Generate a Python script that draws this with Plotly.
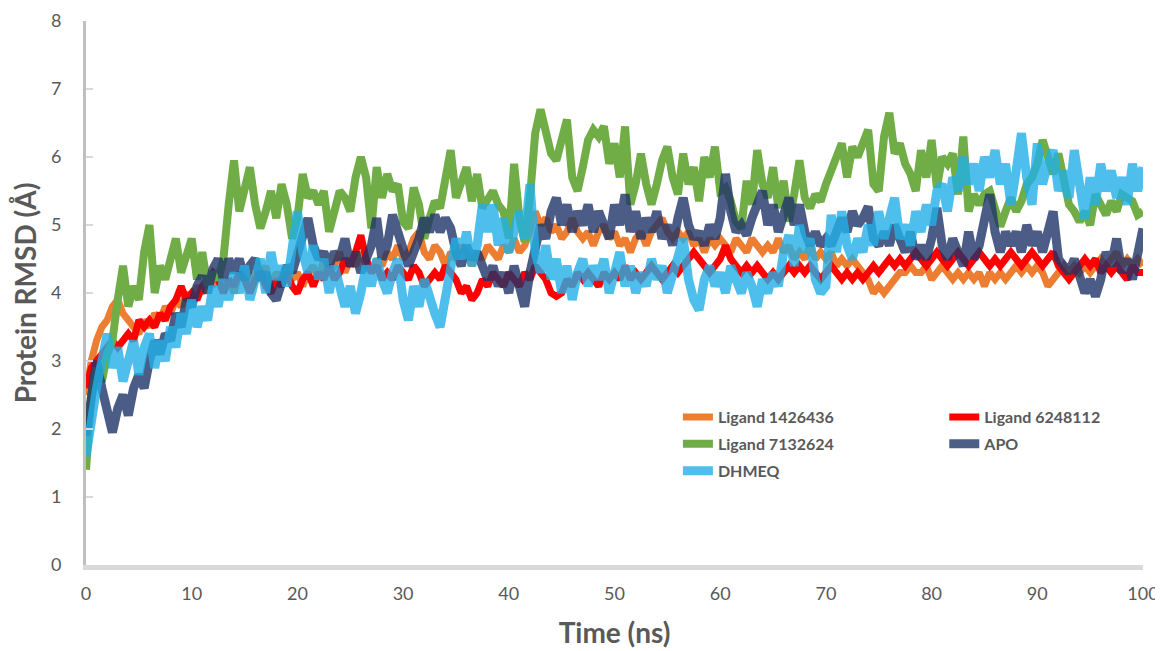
import plotly.graph_objects as go

lig_1426436 = [2.5,3.0,3.3,3.5,3.6,3.8,3.9,3.7,3.6,3.5,3.4,3.6,3.5,3.7,3.6,3.8,3.7,3.9,3.8,4.0,
3.9,4.1,4.0,4.2,4.1,4.3,4.1,4.2,4.0,4.3,4.2,4.1,4.3,4.2,4.4,4.1,4.3,4.2,4.4,4.2,
4.3,4.1,4.3,4.4,4.2,4.5,4.3,4.4,4.6,4.3,4.5,4.4,4.6,4.4,4.3,4.5,4.4,4.6,4.5,4.7,
4.5,4.6,4.8,4.9,4.6,4.5,4.7,4.6,4.4,4.6,4.5,4.7,4.6,4.4,4.6,4.5,4.7,4.6,4.5,4.7,
4.6,4.8,4.6,4.7,4.9,5.2,5.0,5.1,4.9,5.0,4.8,4.9,5.1,4.9,4.8,4.9,4.7,4.9,5.0,4.8,
4.9,4.7,4.8,4.6,4.8,4.9,4.7,4.9,5.0,5.1,4.9,4.8,4.9,4.8,4.9,4.7,4.8,4.6,4.8,4.7,
4.8,4.7,4.6,4.8,4.7,4.6,4.8,4.7,4.6,4.7,4.6,4.8,4.6,4.7,4.5,4.6,4.5,4.7,4.5,4.6,
4.5,4.6,4.4,4.5,4.4,4.5,4.4,4.3,4.2,4.0,4.1,4.0,4.1,4.2,4.3,4.3,4.4,4.3,4.3,4.4,
4.2,4.3,4.4,4.3,4.2,4.3,4.2,4.3,4.2,4.3,4.1,4.3,4.2,4.3,4.2,4.3,4.4,4.3,4.4,4.3,
4.4,4.3,4.1,4.2,4.3,4.4,4.3,4.4,4.3,4.4,4.3,4.4,4.5,4.4,4.5,4.6,4.4,4.5,4.4,4.5,
4.4]

lig_6248112 = [2.6,2.9,3.0,3.1,3.2,3.3,3.2,3.3,3.4,3.3,3.6,3.5,3.6,3.5,3.7,3.6,3.8,3.9,4.1,3.9,
4.0,3.9,4.1,4.2,4.3,4.2,4.0,4.2,4.1,4.3,4.2,4.0,4.2,4.3,4.1,4.0,4.2,4.1,4.3,4.1,
4.0,4.2,4.3,4.1,4.3,4.2,4.4,4.2,4.3,4.5,4.4,4.6,4.85,4.5,4.3,4.4,4.2,4.3,4.2,4.4,
4.3,4.2,4.4,4.3,4.1,4.2,4.3,4.2,4.4,4.3,4.2,4.0,4.1,3.9,4.0,4.2,4.1,4.3,4.2,4.1,
4.3,4.2,4.1,4.3,4.2,4.4,4.3,4.2,4.0,3.95,4.0,4.2,4.1,4.3,4.2,4.3,4.2,4.1,4.3,4.2,
4.3,4.2,4.4,4.2,4.3,4.2,4.3,4.4,4.3,4.2,4.3,4.4,4.3,4.4,4.5,4.6,4.5,4.4,4.3,4.4,
4.5,4.7,4.5,4.4,4.3,4.4,4.3,4.4,4.3,4.2,4.3,4.2,4.3,4.4,4.3,4.4,4.3,4.4,4.3,4.2,
4.3,4.4,4.3,4.2,4.3,4.2,4.3,4.2,4.3,4.4,4.3,4.4,4.5,4.4,4.5,4.4,4.5,4.6,4.5,4.4,
4.5,4.6,4.5,4.4,4.5,4.6,4.5,4.4,4.5,4.6,4.5,4.4,4.5,4.4,4.5,4.6,4.5,4.4,4.5,4.6,
4.5,4.4,4.5,4.6,4.4,4.3,4.2,4.3,4.4,4.5,4.4,4.5,4.3,4.4,4.3,4.4,4.3,4.2,4.4,4.3,
4.3]

lig_7132624 = [1.4,2.5,2.9,2.7,3.1,3.3,3.9,4.4,3.8,4.1,3.9,4.6,5.0,4.0,4.4,4.2,4.5,4.8,4.3,4.6,
4.8,4.2,4.6,4.1,4.3,4.2,4.5,5.3,5.95,5.2,5.5,5.85,5.3,4.95,5.2,5.5,5.1,5.6,5.3,4.8,
5.1,5.75,5.4,5.5,5.3,5.5,4.9,5.2,5.5,5.4,5.2,5.7,6.0,5.7,4.95,5.85,5.4,5.75,5.5,5.6,
5.05,4.95,5.55,5.3,4.8,5.1,5.35,5.25,5.7,6.1,5.4,5.6,5.85,5.35,5.75,5.25,5.4,5.5,5.3,5.2,
4.8,5.9,5.1,4.75,5.4,6.35,6.7,6.3,6.05,5.95,6.3,6.55,5.7,5.5,5.85,6.25,6.4,6.3,6.45,5.9,
6.2,5.7,6.45,5.3,5.6,6.05,5.6,5.3,5.6,5.95,6.15,5.7,5.45,6.05,5.6,5.85,5.35,6.0,5.7,6.15,
5.5,5.55,5.35,5.05,4.95,5.65,5.3,6.1,5.6,5.4,5.85,5.25,5.65,5.05,5.45,5.95,5.4,5.25,5.45,5.35,
5.6,5.8,5.95,6.2,5.7,6.15,6.0,6.2,6.4,5.6,5.5,6.3,6.65,6.05,6.2,5.9,5.75,5.5,6.1,5.7,
6.25,5.55,6.0,5.9,6.05,5.45,6.3,5.2,5.45,5.3,5.45,5.5,5.25,4.98,5.2,5.4,5.2,5.35,5.6,5.7,
5.9,6.25,6.0,5.75,6.05,5.6,5.3,5.2,5.05,5.2,5.0,5.45,5.3,5.15,5.35,5.2,5.45,5.4,5.35,5.15,
5.2]

apo = [1.9,2.4,3.0,2.6,2.2,1.95,2.3,2.5,2.2,2.6,2.8,2.6,3.0,3.3,3.1,3.4,3.3,3.7,3.5,3.9,
3.8,4.1,4.25,4.0,4.35,4.5,4.2,4.5,4.3,4.5,4.2,4.4,4.5,4.2,4.3,4.0,3.9,4.2,4.4,4.3,
4.6,4.8,5.1,4.7,4.5,4.6,4.4,4.6,4.5,4.8,4.4,4.6,4.3,4.5,4.7,5.1,4.5,4.7,5.15,4.9,
4.6,4.4,4.6,4.8,5.1,4.9,5.15,4.9,5.1,4.95,4.6,4.4,4.7,4.5,4.6,4.4,4.2,4.4,4.1,4.3,
4.0,4.4,4.1,3.8,4.3,4.7,5.0,4.8,5.2,5.4,5.0,5.3,4.9,5.2,5.0,5.3,4.9,5.2,5.0,4.8,
5.3,5.0,5.45,4.9,5.2,4.8,5.1,4.9,5.2,4.8,5.0,4.7,5.1,5.4,5.0,4.8,4.9,4.7,5.0,4.8,
5.1,5.75,5.2,4.9,5.0,4.85,5.1,5.3,5.5,5.0,5.3,4.9,5.2,5.4,5.0,5.3,4.9,4.7,4.9,4.7,
4.8,4.7,4.9,5.1,4.9,5.2,5.0,5.1,5.27,4.8,4.7,4.9,4.7,5.0,4.8,4.6,4.9,4.5,4.7,4.5,
4.8,5.25,4.7,4.5,4.8,4.6,4.4,4.9,4.5,4.7,5.1,5.45,4.9,4.6,4.9,4.7,4.9,4.6,5.0,4.7,
4.9,4.6,4.9,5.2,4.5,4.4,4.3,4.5,4.2,4.0,4.2,3.95,4.2,4.6,4.4,4.8,4.3,4.5,4.2,4.6,
4.95]

dhmeq = [1.6,2.2,2.6,3.0,3.4,2.9,3.2,2.7,3.0,3.3,2.8,3.2,3.4,2.9,3.3,3.0,3.5,3.2,3.7,3.4,
3.9,3.5,3.8,3.6,4.1,3.8,4.2,3.9,4.3,4.0,4.4,3.9,4.2,4.5,4.0,4.6,4.2,4.4,4.1,4.7,
5.2,4.6,4.3,4.7,4.2,4.5,4.0,4.4,4.1,3.8,4.1,3.7,4.0,4.4,4.1,4.5,4.2,4.0,4.3,4.5,
3.9,3.6,4.1,3.8,4.2,3.9,3.7,3.5,4.0,4.4,4.8,4.5,4.9,4.4,4.7,5.3,4.9,5.3,4.7,5.1,
4.6,4.9,5.2,4.8,5.6,4.6,4.3,4.7,4.2,4.5,4.0,4.4,3.9,4.3,4.5,4.1,4.4,4.2,4.5,4.0,
4.3,4.6,4.1,4.4,4.0,4.3,4.1,4.5,4.2,4.4,4.0,4.3,4.6,4.8,4.2,3.9,3.75,4.2,4.4,4.1,
4.3,4.0,4.4,4.2,4.0,4.3,4.1,3.8,4.2,4.0,4.3,4.1,4.6,4.85,4.4,5.0,4.6,4.8,4.2,4.0,
4.1,5.15,4.6,5.2,4.7,4.5,4.8,4.6,5.0,4.7,5.2,4.8,5.1,5.4,4.8,5.0,4.7,5.2,4.9,5.3,
5.0,5.5,5.6,5.2,5.7,5.5,6.0,5.6,5.9,5.5,6.0,5.7,6.1,5.6,5.9,5.3,5.8,6.35,5.7,5.3,
6.2,5.6,5.9,6.1,5.5,5.8,5.4,6.1,5.6,5.1,5.7,5.3,5.9,5.5,5.8,5.4,5.7,5.3,5.9,5.5,
5.85]

series = [
    ("Ligand 1426436", lig_1426436, "#ed7d31", 7, 1.0, "legend"),
    ("Ligand 6248112", lig_6248112, "#ff0000", 7, 1.0, "legend2"),
    ("Ligand 7132624", lig_7132624, "#70ad47", 8, 1.0, "legend"),
    ("APO", apo, "#1f3468", 9, 0.8, "legend2"),
    ("DHMEQ", dhmeq, "#22b0e8", 9, 0.8, "legend"),
]

fig = go.Figure()
for i, (name, vals, color, w, op, lg) in enumerate(series):
    t = [k * 0.5 for k in range(len(vals))]
    fig.add_trace(go.Scatter(x=t, y=vals, mode="lines", name=name,
                             line=dict(color=color, width=w), opacity=op,
                             legend=lg, legendgroup=name))

axis_font = dict(family="Lato", size=18, color="#595959")
title_font = dict(family="Lato", size=28, color="#595959", weight="bold")
leg_font = dict(family="Lato", size=16, color="#595959", weight="bold")

# the page body adds an 8px offset, so the figure is sized/margined to compensate
fig.update_layout(
    width=1155, height=643,
    margin=dict(l=78, r=20, t=13, b=86),
    paper_bgcolor="white", plot_bgcolor="white",
    xaxis=dict(range=[0, 100], dtick=10, showgrid=False, zeroline=False,
               showline=True, linecolor="#d9d9d9", linewidth=5,
               ticks="", tickfont=axis_font, automargin=False, ticklabelstandoff=8,
               title=dict(text="<b>Time (ns)</b>", font=title_font, standoff=22)),
    yaxis=dict(range=[0, 8], dtick=1, showgrid=False, zeroline=False,
               showline=True, linecolor="#bfbfbf", linewidth=3,
               ticks="inside", ticklen=7, tickwidth=2, tickcolor="#d9d9d9",
               tickfont=axis_font, ticklabelstandoff=18, automargin=False,
               title=dict(text="<b>Protein RMSD (Å)</b>", font=title_font, standoff=12)),
    legend=dict(x=0.56, y=0.303, xanchor="left", yanchor="top", font=leg_font,
                bgcolor="rgba(0,0,0,0)", tracegroupgap=3),
    legend2=dict(x=0.812, y=0.303, xanchor="left", yanchor="top", font=leg_font,
                 bgcolor="rgba(0,0,0,0)", tracegroupgap=3),
    showlegend=True,
)

fig.write_html("out.html")
